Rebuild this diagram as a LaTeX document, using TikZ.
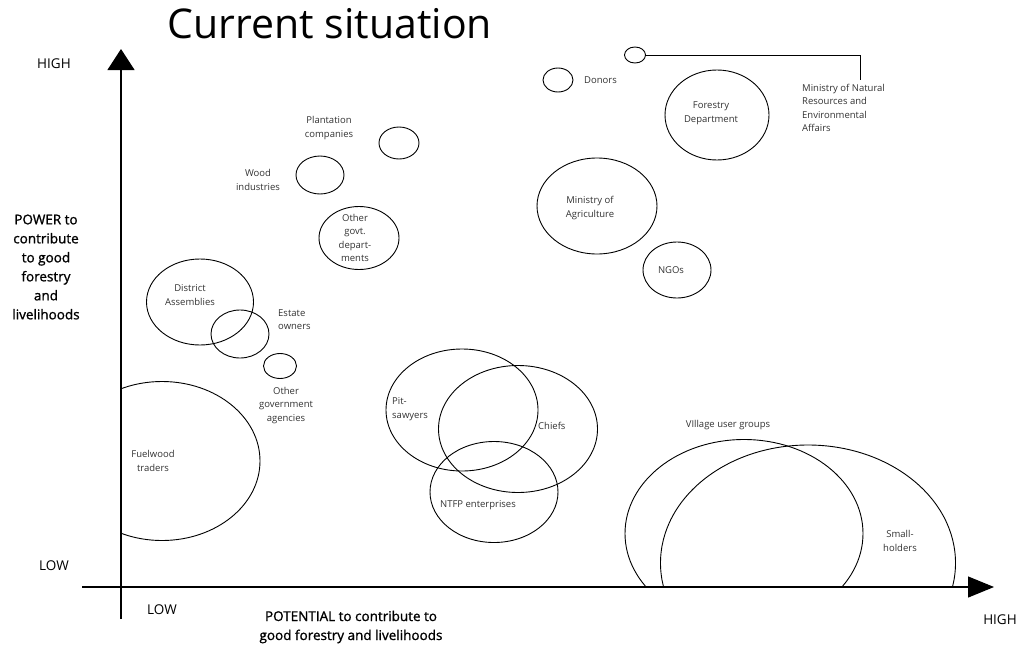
\documentclass[tikz,border=0pt]{standalone}
\usepackage{fontspec}
\setmainfont{Open Sans}
\newfontfamily\axisfont[FakeBold=1.2]{Open Sans}
\usetikzlibrary{shapes.geometric,arrows.meta}

\tikzset{
  blob/.style={draw,ellipse,inner sep=0pt,line width=0.9pt},
  lbl/.style={text=black!80,font=\fontsize{9.5}{13.5}\selectfont,align=center,inner sep=0pt},
  axlbl/.style={font=\fontsize{13.5}{19}\selectfont,align=center,inner sep=0pt},
  axname/.style={font=\axisfont\fontsize{13.5}{19}\selectfont,align=center,inner sep=0pt},
}

\begin{document}
\begin{tikzpicture}[x=1pt,y=-1pt]
\useasboundingbox (0,0) rectangle (1027,648);

%title
\node [anchor=base,inner sep=0pt,font=\fontsize{41}{48}\selectfont] (title) at(330,38){Current situation};

%axes
\coordinate (ybot) at(121,619);
\coordinate (ytop) at(121,49);
\coordinate (xleft) at(82,587);
\coordinate (xright) at(994,587);
\draw[line width=1.2pt,-{Triangle[width=27pt,length=21pt]}](ybot) -- (ytop);
\draw[line width=1.2pt,-{Triangle[width=21pt,length=26pt]}](xleft) -- (xright);

\node [axlbl] (yhigh) at(54,64){HIGH};
\node [axlbl] (ylow) at(54,566){LOW};
\node [axlbl] (xlow) at(162,610){LOW};
\node [axlbl] (xhigh) at(1000,620){HIGH};
\node [axname] (power) at(46,267){POWER to\\contribute\\to good\\forestry\\and\\livelihoods};
\node [axname] (potential) at(351,627){POTENTIAL to contribute to\\good forestry and livelihoods};

%top right
\node [blob,minimum width=21,minimum height=16] (mnr) at(635,55){};
\coordinate (mnrdrop) at(860,80);
\draw[line width=0.9pt](mnr.east) -| (mnrdrop);
\node [lbl,align=left,anchor=west] (mnrl) at(802,108){Ministry of Natural\\Resources and\\Environmental\\Affairs};

\node [blob,minimum width=30,minimum height=24] (donors) at(558,80){};
\node [lbl,anchor=west] (donorsl) at(584,80){Donors};

\node [blob,minimum width=104,minimum height=90] (fd) at(717,115){};
\node [lbl] (fdl) at(711,113){Forestry\\Department};

\node [blob,minimum width=120,minimum height=96] (moa) at(597,206){};
\node [lbl] (moal) at(590,208){Ministry of\\Agriculture};

\node [blob,minimum width=68,minimum height=56] (ngo) at(677,270){};
\node [lbl] (ngol) at(671,270){NGOs};

%top left
\node [blob,minimum width=40,minimum height=32] (pc) at(399,143){};
\node [lbl] (pcl) at(329,128){Plantation\\companies};

\node [blob,minimum width=48,minimum height=38] (wi) at(320,175){};
\node [lbl] (wil) at(258,180){Wood\\industries};

\node [blob,minimum width=80,minimum height=63] (ogd) at(359,238){};
\node [lbl] (ogdl) at(355,238){Other\\govt.\\depart-\\ments};

\node [blob,minimum width=107,minimum height=86] (da) at(200,302){};
\node [lbl] (dal) at(190,295){District\\Assemblies};

\node [blob,minimum width=58,minimum height=48] (eo) at(240,334){};
\node [lbl,align=left,anchor=west] (eol) at(278,319.5){Estate\\owners};

\node [blob,minimum width=33,minimum height=25] (oga) at(280,366){};
\node [lbl] (ogal) at(286,405.5){Other\\government\\agencies};

%bottom left
\begin{scope}
\clip (121,300) rectangle (400,600);
\node [blob,minimum width=196,minimum height=159] (fw) at(162,461){};
\end{scope}
\node [lbl] (fwl) at(153,461){Fuelwood\\traders};

%middle
\node [blob,minimum width=152,minimum height=122] (ps) at(462,410){};
\node [lbl,align=left,anchor=west] (psl) at(392,409){Pit-\\sawyers};

\node [blob,minimum width=159,minimum height=127] (ch) at(518,429){};
\node [lbl,anchor=west] (chl) at(538,426){Chiefs};

\node [blob,minimum width=128,minimum height=101] (ntfp) at(494,492){};
\node [lbl] (ntfpl) at(478,505){NTFP enterprises};

%bottom right
\begin{scope}
\clip (600,400) rectangle (1000,587);
\node [blob,minimum width=238,minimum height=188] (vug) at(744,533.5){};
\node [blob,minimum width=295,minimum height=236] (sh) at(808,563){};
\end{scope}
\node [lbl] (vugl) at(728,425){VIllage user groups};
\node [lbl] (shl) at(900,541){Small-\\holders};

\end{tikzpicture}
\end{document}
